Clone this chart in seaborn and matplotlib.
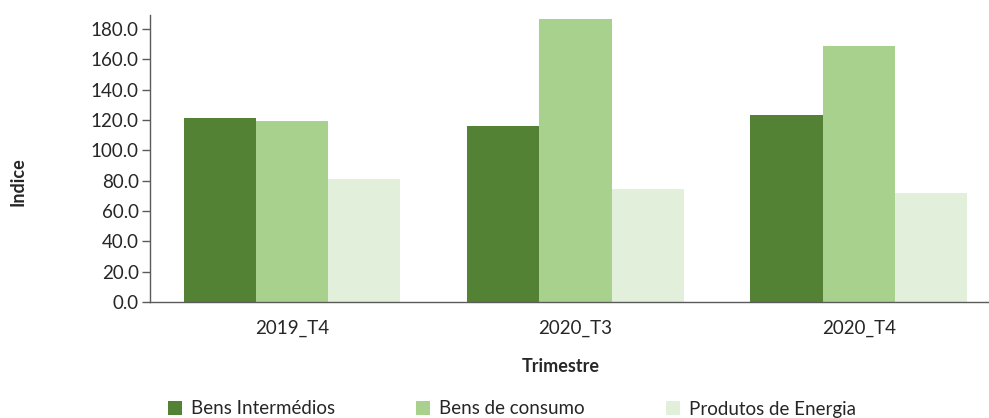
import matplotlib
matplotlib.use("Agg")
import matplotlib.pyplot as plt
import seaborn as sns
import pandas as pd
from matplotlib.patches import Patch

trimestres = ["2019_T4", "2020_T3", "2020_T4"]
bens_intermedios = [121.1, 116.2, 123.3]
bens_consumo = [119.3, 186.5, 168.5]
produtos_energia = [81.1, 74.5, 71.6]
series_names = ["Bens Intermédios", "Bens de consumo", "Produtos de Energia"]
colors = ["#548235", "#A9D18E", "#E2EFDA"]
y_ticks = [0, 20, 40, 60, 80, 100, 120, 140, 160, 180]

rows = []
for name, vals in zip(series_names, [bens_intermedios, bens_consumo, produtos_energia]):
    for t, v in zip(trimestres, vals):
        rows.append({"Trimestre": t, "Indice": v, "Serie": name})
df = pd.DataFrame(rows)

sns.set_theme(style="white")
plt.rcParams["font.family"] = ["Lato", "DejaVu Sans"]

W, H = 989, 418
fig = plt.figure(figsize=(W / 100, H / 100), dpi=100)
ax = fig.add_axes([150 / W, (H - 302) / H, (W - 150) / W, (302 - 15) / H])

sns.barplot(data=df, x="Trimestre", y="Indice", hue="Serie", hue_order=series_names,
            order=trimestres, palette=colors, width=0.765, saturation=1,
            errorbar=None, ax=ax, legend=False, linewidth=0)

ax.set_ylim(0, 189.2)
ax.set_xlim(-0.501, 2.459)
ax.set_yticks(y_ticks)
ax.set_yticklabels([f"{v:.1f}" for v in y_ticks])
ax.set_xlabel("")
ax.set_ylabel("")
for s in ["top", "right"]:
    ax.spines[s].set_visible(False)
for s in ["left", "bottom"]:
    ax.spines[s].set_color("#5a5a5a")
    ax.spines[s].set_linewidth(1.0)
ax.tick_params(axis="y", length=6, width=1, color="#5a5a5a", labelsize=13.5,
               labelcolor="#262626", pad=2, left=True)
ax.tick_params(axis="x", length=0, labelsize=13.5, labelcolor="#262626", pad=13)

fig.text(18 / W, 1 - 182 / H, "Indice", rotation=90, ha="center", va="center",
         fontsize=13, fontweight="bold", color="#262626")
fig.text(561 / W, 1 - 367 / H, "Trimestre", ha="center", va="center",
         fontsize=13, fontweight="bold", color="#262626")

handles = [Patch(facecolor=c, edgecolor="none") for c in colors]
fig.legend(handles, series_names, loc="center", bbox_to_anchor=(512 / W, 1 - 409 / H),
           ncol=3, frameon=False, fontsize=13.5, handlelength=0.75, handleheight=0.75,
           handletextpad=0.5, columnspacing=4.3, labelcolor="#262626",
           borderpad=0, borderaxespad=0)

fig.savefig("out.png", dpi=100)
